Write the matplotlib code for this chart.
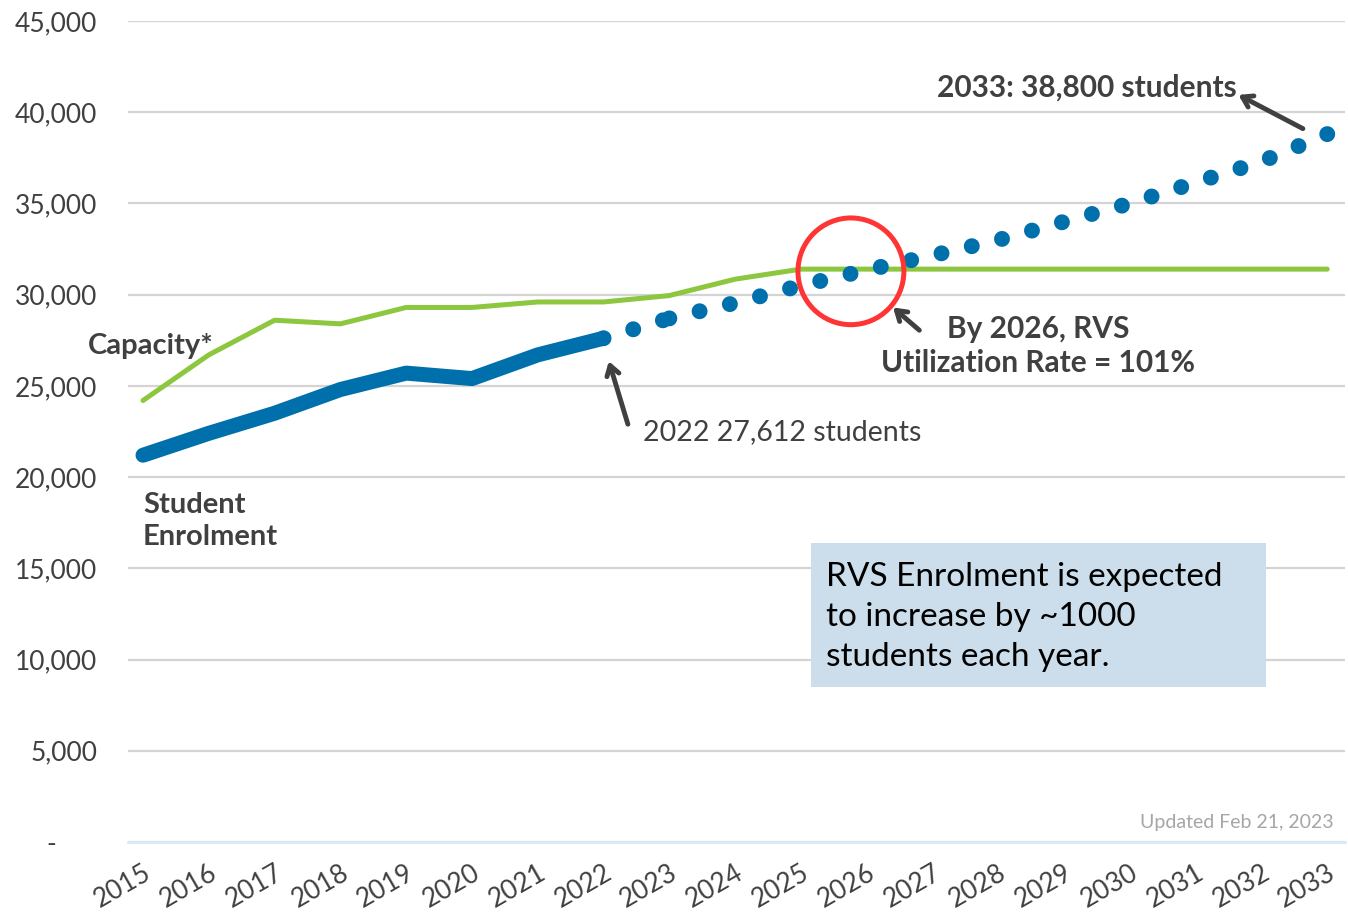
import matplotlib
matplotlib.use("Agg")
import numpy as np
import matplotlib.pyplot as plt
from matplotlib.patches import Ellipse, Rectangle
from matplotlib.ticker import FuncFormatter

# ── Data ─────────────────────────────────────────────────────────────
years = list(range(2015, 2034))
capacity = [24200, 26700, 28600, 28400, 29300, 29300, 29600, 29600, 29950,
            30850, 31400, 31400, 31400, 31400, 31400, 31400, 31400, 31400, 31400]
enrol_years = list(range(2015, 2023))
enrolment = [21200, 22400, 23500, 24800, 25700, 25400, 26700, 27612]
proj_years = list(range(2023, 2034))
projection = [28700, 29550, 30500, 31350, 32150, 33000, 34000, 35000,
              36150, 37300, 38800]

BLUE = "#0070AD"
GREEN = "#8DC63F"
RED = "#FF3535"
DARK = "#404040"
DPI = 100

plt.rcParams["font.family"] = ["Lato", "DejaVu Sans"]

fig = plt.figure(figsize=(13.48, 9.15), dpi=DPI)
ax = fig.add_axes([128 / 1348, 1 - 842 / 915, 1217 / 1348, 821 / 915])
ax.set_xlim(2014.772, 2033.27)
ax.set_ylim(0, 45000)


def dotted(xs, ys, n_gaps=None, step_px=None, lw=11.5):
    # round dots; either spread evenly over the run or at a fixed pitch
    if step_px is None:
        pts = ax.transData.transform(np.column_stack([xs, ys]))
        length = np.sum(np.hypot(*np.diff(pts, axis=0).T))
        step_px = length / n_gaps
    step = step_px / (lw * DPI / 72)
    ax.plot(xs, ys, color=BLUE, lw=lw, linestyle=(0, (0.001, step - 0.001)),
            dash_capstyle="round", zorder=4)


# ── Lines ────────────────────────────────────────────────────────────
ax.plot(years, capacity, color=GREEN, lw=3.6, solid_capstyle="round",
        solid_joinstyle="round", zorder=3)
ax.plot(enrol_years, enrolment, color=BLUE, lw=10.8, solid_capstyle="round",
        solid_joinstyle="round", zorder=4)
dotted([enrol_years[-1], proj_years[0]], [enrolment[-1], projection[0]],
       step_px=31)
dotted(proj_years, projection, n_gaps=22)

# ── Axes styling ─────────────────────────────────────────────────────
ax.set_yticks(range(0, 45001, 5000))
ax.yaxis.set_major_formatter(FuncFormatter(
    lambda v, p: "-      " if v == 0 else f"{int(v):,}"))
ax.set_xticks(years)
ax.set_xticklabels([str(y) for y in years], rotation=30, ha="right",
                   rotation_mode="anchor")
ax.tick_params(axis="both", length=0, colors=DARK, labelsize=19)
ax.tick_params(axis="y", pad=22)
ax.tick_params(axis="x", pad=13)
for s in ["top", "right", "left"]:
    ax.spines[s].set_visible(False)
ax.spines["bottom"].set_color("#D5EBFA")
ax.spines["bottom"].set_linewidth(2)
ax.grid(axis="y", color="#D4D4D4", lw=1.6)
ax.set_axisbelow(True)

# ── Annotations ──────────────────────────────────────────────────────
arrow = dict(arrowstyle="->,head_length=0.7,head_width=0.45", color=DARK,
             lw=3.5, shrinkA=0, shrinkB=0)

ax.text(2014.16, 27170, "Capacity*", fontsize=21, fontweight="bold",
        color=DARK, va="center", ha="left", clip_on=False)
ax.text(2015.0, 17600, "Student\nEnrolment", fontsize=21, fontweight="bold",
        color=DARK, va="center", ha="left", linespacing=1.25)

ax.annotate("", xy=(2022.08, 26350), xytext=(2022.37, 22900),
            arrowprops=arrow)
ax.text(2022.6, 22450, "2022 27,612 students", fontsize=20.5, color=DARK,
        va="center", ha="left")

ax.add_patch(Ellipse((2025.76, 31280), width=1.61, height=5850,
                     fill=False, edgecolor=RED, lw=3.6, zorder=5))
ax.annotate("", xy=(2026.4, 29300), xytext=(2026.8, 28050),
            arrowprops=arrow)
ax.text(2028.6, 27200, "By 2026, RVS\nUtilization Rate = 101%", fontsize=21.5,
        fontweight="bold", color=DARK, va="center", ha="center",
        linespacing=1.25)

ax.annotate("", xy=(2031.65, 40950), xytext=(2032.63, 39100),
            arrowprops=arrow)
ax.text(2031.62, 41350, "2033: 38,800 students", fontsize=21.5,
        fontweight="bold", color=DARK, va="center", ha="right")

ax.add_patch(Rectangle((2025.15, 8500), 6.92, 7900, facecolor="#CCDEEB",
                       edgecolor="none", zorder=6))
ax.text(2025.38, 12330, "RVS Enrolment is expected\nto increase by ~1000\n"
        "students each year.", fontsize=24, color="black", va="center",
        ha="left", linespacing=1.42, zorder=7)

ax.text(2033.09, 1050, "Updated Feb 21, 2023", fontsize=14,
        color="#A6A6A6", va="center", ha="right")

fig.savefig("out.png", dpi=DPI)
